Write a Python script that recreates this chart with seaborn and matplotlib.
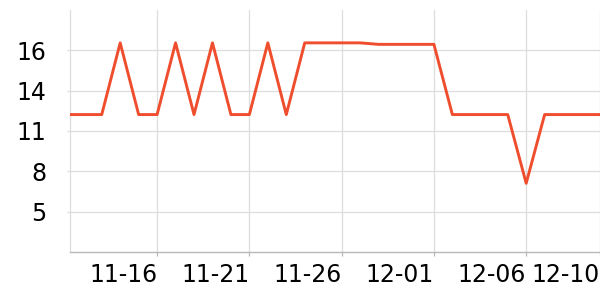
import matplotlib
matplotlib.use("Agg")
import matplotlib.pyplot as plt
import matplotlib.dates as mdates
import seaborn as sns
import pandas as pd
import numpy as np

# ---- data ----
dates = pd.date_range("2023-11-11", "2023-12-10", freq="D")
values = [11.9, 11.9, 11.9, 16.7, 11.9, 11.9, 16.7, 11.9, 16.7, 11.9,
          11.9, 16.7, 11.9, 16.7, 16.7, 16.7, 16.7, 16.6, 16.6, 16.6,
          16.6, 11.9, 11.9, 11.9, 11.9, 7.3, 11.9, 11.9, 11.9, 11.9]
x_tick_dates = ["2023-11-16", "2023-11-21", "2023-11-26", "2023-12-01", "2023-12-06", "2023-12-10"]
x_tick_labels = ["11-16", "11-21", "11-26", "12-01", "12-06", "12-10"]
y_ticks = [5.4, 8.1, 10.8, 13.5, 16.2]
y_tick_labels = ["5", "8", "11", "14", "16"]
y_range = [2.7, 18.9]

df = pd.DataFrame({"date": dates, "value": values})

sns.set_theme(style="white")
plt.rcParams["font.family"] = ["DejaVu Sans"]

fig = plt.figure(figsize=(6, 3), dpi=100)
ax = fig.add_axes([70/600, 48/300, 530/600, 242/300])

sns.lineplot(data=df, x="date", y="value", ax=ax, color="#EF4E2E", linewidth=2.1, zorder=3)

left = mdates.date2num(pd.Timestamp("2023-11-11")) + 0.28
right = mdates.date2num(pd.Timestamp("2023-12-10"))
ax.set_xlim(left, right)
ax.set_ylim(*y_range)

ax.set_xticks([mdates.date2num(pd.Timestamp(d)) for d in x_tick_dates])
ax.set_xticklabels(x_tick_labels, ha="right")
ax.set_yticks(y_ticks)
ax.set_yticklabels(y_tick_labels)

ax.grid(True, color="#dddddd", linewidth=0.9)
for s in ["top", "right"]:
    ax.spines[s].set_visible(False)
ax.spines["left"].set_color("#dddddd")
ax.spines["left"].set_linewidth(0.9)
ax.spines["bottom"].set_color("#b8b8b8")
ax.spines["bottom"].set_linewidth(1.0)

ax.tick_params(axis="x", which="both", length=3, width=0.9, color="#b8b8b8",
               labelsize=17, labelcolor="black", pad=5, bottom=True)
ax.tick_params(axis="y", which="both", length=2, width=0.9, color="#dddddd",
               labelsize=17, labelcolor="black", pad=15, left=True)

ax.set_xlabel("")
ax.set_ylabel("")

fig.savefig("out.png", dpi=100)
